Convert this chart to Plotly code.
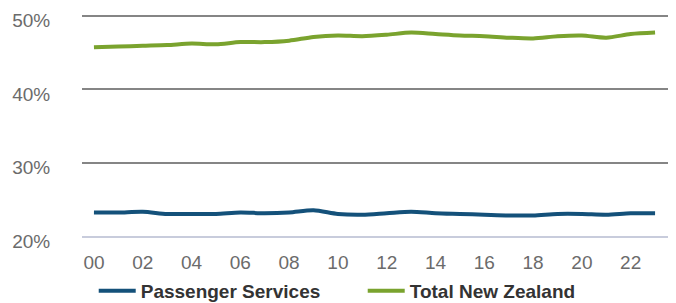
import plotly.graph_objects as go

years = list(range(2000, 2024))
tick_vals = list(range(2000, 2024, 2))
tick_text = [f"{y % 100:02d}" for y in tick_vals]
y_tick_vals = [20, 30, 40, 50]
y_tick_text = ["20%", "30%", "40%", "50%"]

passenger = [23.2, 23.2, 23.3, 23.0, 23.0, 23.0, 23.2, 23.1, 23.2, 23.5, 23.0, 22.9,
             23.1, 23.3, 23.1, 23.0, 22.9, 22.8, 22.8, 23.0, 23.0, 22.9, 23.1, 23.1]
total_nz = [45.7, 45.8, 45.9, 46.0, 46.2, 46.1, 46.4, 46.4, 46.6, 47.1, 47.3, 47.2,
            47.4, 47.7, 47.5, 47.3, 47.2, 47.0, 46.9, 47.2, 47.3, 47.0, 47.5, 47.7]

fig = go.Figure()
fig.add_trace(go.Scatter(x=years, y=passenger, name="Passenger Services", mode="lines",
                         line=dict(color="#14517a", width=4, shape="spline", smoothing=0.8)))
fig.add_trace(go.Scatter(x=years, y=total_nz, name="Total New Zealand", mode="lines",
                         line=dict(color="#7aa32e", width=4, shape="spline", smoothing=0.8)))

fig.update_layout(
    width=676, height=303,
    margin=dict(l=74, r=16, t=4, b=75, autoexpand=False),
    paper_bgcolor="white", plot_bgcolor="white",
    font=dict(family="Arial, Liberation Sans, sans-serif", size=19, color="#6b6b6b"),
    showlegend=True,
    legend=dict(orientation="h", x=0.02, xanchor="left", y=-0.2455, yanchor="middle",
                bgcolor="rgba(0,0,0,0)", itemwidth=37,
                font=dict(size=19, color="#333333", family="Arial, Liberation Sans, sans-serif", weight="bold"),
                entrywidth=217, entrywidthmode="pixels"),
    xaxis=dict(range=[1999.51, 2023.53], tickvals=tick_vals, ticktext=tick_text,
               showgrid=False, showline=True, linecolor="#c8ccdc", linewidth=2,
               ticks="outside", ticklen=8, tickcolor="rgba(0,0,0,0)", zeroline=False,
               tickfont=dict(size=19)),
    yaxis=dict(range=[20, 50.5], tickvals=y_tick_vals, ticktext=y_tick_text,
               showgrid=True, gridcolor="#858585", gridwidth=2, zeroline=False,
               ticks="outside", ticklen=27, tickcolor="rgba(0,0,0,0)",
               ticklabelshift=5, ticklabeloverflow="allow", tickfont=dict(size=19)),
)

fig.write_html("out.html")
